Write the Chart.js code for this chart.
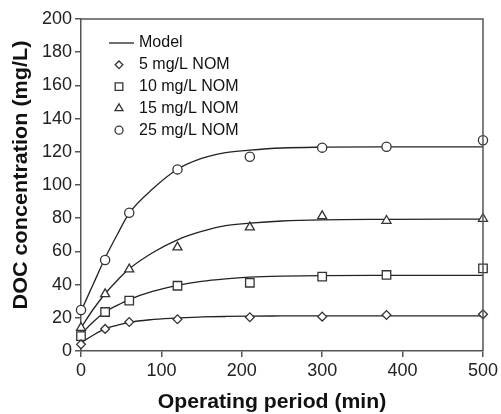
<!DOCTYPE html>
<html>
<head>
<meta charset="utf-8">
<script src="https://cdn.jsdelivr.net/npm/chart.js@4.4.1/dist/chart.umd.min.js"></script>
<style>
  html, body { margin: 0; padding: 0; background: #fff; }
  #wrap { width: 501px; height: 414px; }
</style>
</head>
<body>
<div id="wrap"><canvas id="myChart" width="501" height="414"></canvas></div>
<script>
// measured samples (min)
const sampleTimes = [0, 30, 60, 120, 210, 300, 380, 500];
const nom5 = [4, 13.3, 17.5, 19.1, 20.3, 20.7, 21.7, 22.1];
const nom10 = [9, 23.5, 30.3, 39.3, 41.1, 44.8, 45.8, 49.8];
const nom15 = [14, 34.3, 49.2, 62.5, 74.5, 81.3, 78.5, 79.7];
const nom25 = [24.7, 54.8, 83.3, 109.4, 117, 122.5, 123, 127];

// model curves
const modelTimes = [0, 15, 30, 45, 60, 90, 120, 150, 180, 210, 250, 300, 380, 500];
const model5 = [5, 9.5, 13.3, 15.5, 17.3, 19, 20, 20.5, 20.8, 21, 21.1, 21.2, 21.2, 21.2];
const model10 = [10, 17.5, 23.5, 27.5, 31, 36, 39.5, 42, 43.5, 44.5, 45.1, 45.4, 45.5, 45.5];
const model15 = [14, 25, 34.5, 42.5, 49.5, 59.5, 67, 72, 75.5, 77, 78.3, 79, 79.3, 79.5];
const model25 = [24, 40, 56, 70, 83, 98, 109.5, 116, 119.5, 121, 122.3, 122.8, 123, 123];

const xTicks = [0, 100, 200, 300, 400, 500];
const yTicks = [0, 20, 40, 60, 80, 100, 120, 140, 160, 180, 200];

const labels = ["5 mg/L NOM", "10 mg/L NOM", "15 mg/L NOM", "25 mg/L NOM"];
const styles = ["rectRot", "rect", "triangle", "circle"];
const radii = [4.4, 6, 5.2, 4.6];

const axisColor = "#555";
const markColor = "#333";
const font = "'Liberation Sans', Arial, sans-serif";

function pts(xs, ys) {
  return xs.map((x, i) => ({ x: x, y: ys[i] }));
}

const modelSets = [model5, model10, model15, model25].map(m => ({
  label: "Model",
  data: pts(modelTimes, m),
  showLine: true,
  borderColor: "#222",
  borderWidth: 1.3,
  pointRadius: 0,
  cubicInterpolationMode: "monotone",
  clip: false,
  order: 2,
}));

const pointSets = [nom5, nom10, nom15, nom25].map((d, i) => ({
  label: labels[i],
  data: pts(sampleTimes, d),
  showLine: false,
  pointStyle: styles[i],
  pointRadius: radii[i],
  pointBackgroundColor: "#fff",
  pointBorderColor: markColor,
  pointBorderWidth: 1.3,
  clip: false,
  order: 1,
}));

// frame round the plot area
const frame = {
  id: "frame",
  afterDatasetsDraw(chart) {
    const a = chart.chartArea;
    const c = chart.ctx;
    c.save();
    c.strokeStyle = axisColor;
    c.lineWidth = 1.5;
    c.beginPath();
    c.moveTo(a.left, a.top);
    c.lineTo(a.right, a.top);
    c.lineTo(a.right, a.bottom);
    c.stroke();
    c.restore();
  },
};

// axis titles, the font in the original is a bit wider than Arial
const titles = {
  id: "titles",
  afterDraw(chart) {
    const c = chart.ctx;
    c.save();
    c.fillStyle = "#111";
    c.font = "bold 20px " + font;
    c.textAlign = "center";
    c.textBaseline = "alphabetic";
    c.save();
    c.translate(272, 408);
    c.scale(1.06, 1);
    c.fillText("Operating period (min)", 0, 0);
    c.restore();
    c.save();
    c.translate(27, 175);
    c.rotate(-Math.PI / 2);
    c.scale(1.08, 1);
    c.fillText("DOC concentration (mg/L)", 0, 0);
    c.restore();
    c.restore();
  },
};

// legend inside the plot, top left
const legendBox = {
  id: "legendBox",
  afterDraw(chart) {
    const c = chart.ctx;
    const sx = 119, tx = 139, y0 = 43, dy = 21.8;
    c.save();
    c.font = "16px " + font;
    c.textBaseline = "middle";
    c.strokeStyle = "#222";
    c.lineWidth = 1.3;
    c.beginPath();
    c.moveTo(109, y0);
    c.lineTo(134, y0);
    c.stroke();
    c.fillStyle = "#111";
    c.fillText("Model", tx, y0);
    labels.forEach((t, i) => {
      const y = y0 + dy * (i + 1);
      c.fillStyle = "#fff";
      c.strokeStyle = markColor;
      Chart.helpers.drawPoint(c, { pointStyle: styles[i], radius: radii[i] - 0.6, borderWidth: 1.3, rotation: 0 }, sx, y);
      c.fillStyle = "#111";
      c.fillText(t, tx, y);
    });
    c.restore();
  },
};

const ctx = document.getElementById("myChart").getContext("2d");
const chart = new Chart(ctx, {
  type: "scatter",
  data: { datasets: modelSets.concat(pointSets) },
  options: {
    responsive: false,
    animation: false,
    layout: { padding: { top: 19, right: 10, left: 0, bottom: 0 } },
    plugins: { legend: { display: false }, tooltip: { enabled: false } },
    scales: {
      x: {
        type: "linear",
        min: 0,
        max: 500,
        afterBuildTicks: s => { s.ticks = xTicks.map(v => ({ value: v })); },
        afterFit: s => { s.height = 63; },
        ticks: { color: "#222", font: { family: font, size: 18 }, padding: 3 },
        grid: { drawOnChartArea: false, drawTicks: true, tickLength: 6, color: axisColor, lineWidth: 1.5 },
        border: { color: axisColor, width: 1.5 },
      },
      y: {
        type: "linear",
        min: 0,
        max: 200,
        afterBuildTicks: s => { s.ticks = yTicks.map(v => ({ value: v })); },
        afterFit: s => { s.width = 81; },
        ticks: { color: "#222", font: { family: font, size: 18 }, padding: 3 },
        grid: { drawOnChartArea: false, drawTicks: true, tickLength: 6, color: axisColor, lineWidth: 1.5 },
        border: { color: axisColor, width: 1.5 },
      },
    },
  },
  plugins: [frame, titles, legendBox],
});
</script>
</body>
</html>
